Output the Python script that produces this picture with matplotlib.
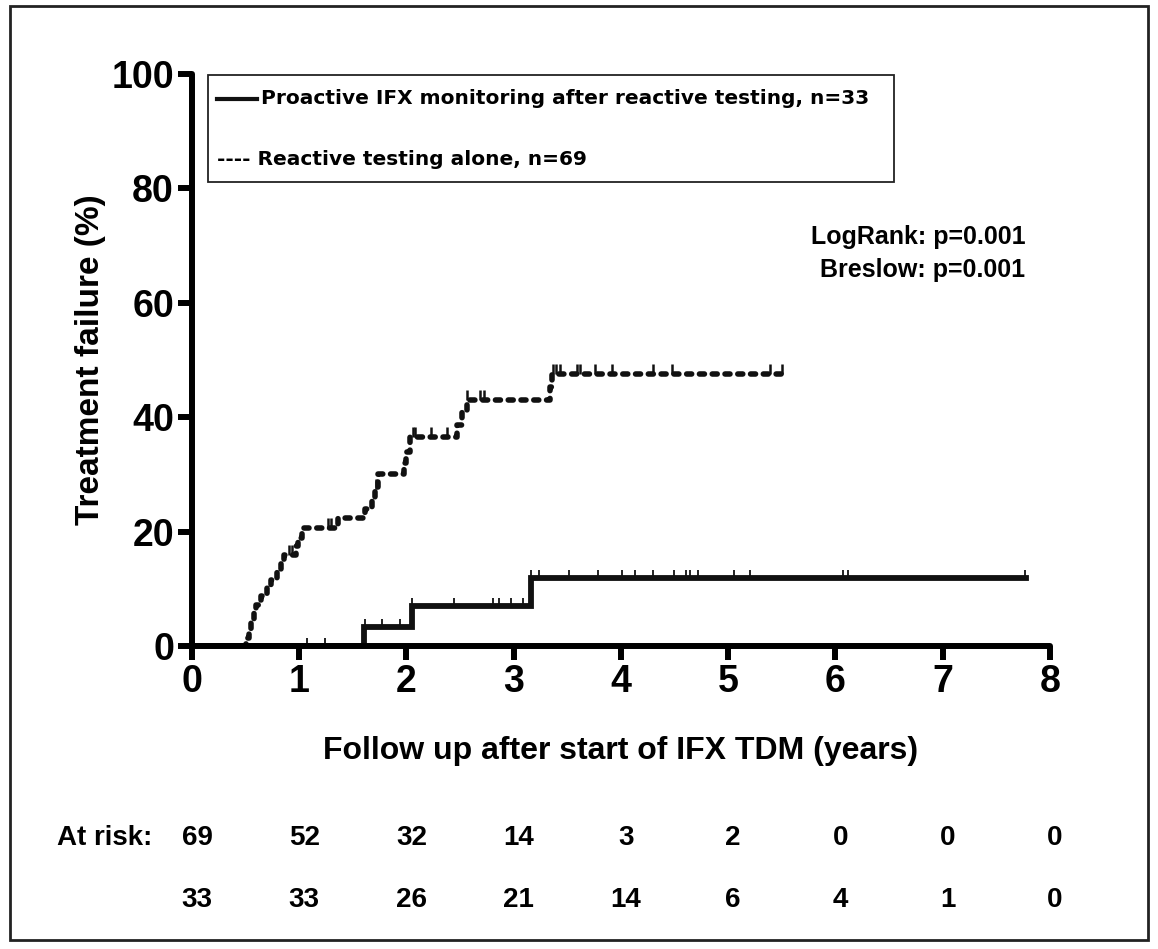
import matplotlib
matplotlib.use("Agg")
import matplotlib.pyplot as plt
from matplotlib.patches import Rectangle
from matplotlib.lines import Line2D

plt.rcParams['font.family'] = ['Liberation Sans', 'DejaVu Sans']
plt.rcParams['font.weight'] = 'bold'

# cumulative treatment failure (%), step curves
reactive_t = [0, 0.50, 0.53, 0.55, 0.58, 0.60, 0.64, 0.70, 0.74, 0.79, 0.83, 0.86,
              0.97, 0.99, 1.03, 1.36, 1.61, 1.68, 1.71, 1.73, 1.98, 2.00, 2.03,
              2.47, 2.52, 2.56, 3.34, 3.36, 5.50]
reactive_y = [0, 1.4, 2.9, 4.3, 5.8, 7.2, 8.7, 10.1, 11.6, 13.0, 14.5, 15.9,
              17.4, 18.9, 20.6, 22.3, 24.0, 25.8, 27.5, 30.0, 32.0, 34.0, 36.6,
              38.6, 41.0, 43.0, 45.3, 47.6, 47.6]

proactive_t = [0, 1.60, 2.05, 3.16, 7.78]
proactive_y = [0, 3.3, 7.0, 11.9, 11.9]

# censored observations
reactive_cens = [0.90, 0.93, 1.27, 1.30, 1.72, 2.06, 2.08, 2.23, 2.38, 2.56, 2.69,
                 2.72, 3.37, 3.39, 3.43, 3.59, 3.62, 3.76, 3.92, 4.30, 4.48, 5.39, 5.50]
proactive_cens = [1.07, 1.24, 1.61, 1.77, 1.94, 2.05, 2.44, 2.81, 2.86, 2.97, 3.09,
                  3.16, 3.24, 3.52, 3.79, 4.01, 4.13, 4.30, 4.49, 4.61, 4.64, 4.72,
                  5.05, 5.20, 6.07, 6.12, 7.77]

risk_years = [0, 1, 2, 3, 4, 5, 6, 7, 8]
risk_reactive = [69, 52, 32, 14, 3, 2, 0, 0, 0]
risk_proactive = [33, 33, 26, 21, 14, 6, 4, 1, 0]


def level_at(times, levels, t):
    y = levels[0]
    for ti, yi in zip(times, levels):
        if ti <= t:
            y = yi
    return y


fig = plt.figure(figsize=(11.58, 9.49), dpi=100)
ax = fig.add_axes([0.1658, 0.3193, 0.7409, 0.6027])

ax.step(reactive_t, reactive_y, where='post', color='#111111', lw=4.0,
        linestyle=(0, (0.9, 1.4)), dash_capstyle='round')
ax.step(proactive_t, proactive_y, where='post', color='#111111', lw=4.2,
        solid_joinstyle='miter')

ax.plot(reactive_cens, [level_at(reactive_t, reactive_y, t) for t in reactive_cens],
        linestyle='none', marker=2, markersize=7, mew=1.8, color='#111111')
ax.plot(proactive_cens, [level_at(proactive_t, proactive_y, t) for t in proactive_cens],
        linestyle='none', marker=2, markersize=6, mew=1.3, color='#111111')

ax.set_xlim(0, 8)
ax.set_ylim(0, 100)
ax.set_xticks(range(0, 9))
ax.set_yticks(range(0, 101, 20))
for s in ['top', 'right']:
    ax.spines[s].set_visible(False)
for s in ['left', 'bottom']:
    ax.spines[s].set_linewidth(4.3)
    ax.spines[s].set_capstyle('round')
ax.tick_params(width=4.3, length=10, labelsize=27, pad=3)
for lab in ax.get_xticklabels() + ax.get_yticklabels():
    lab.set_fontweight('bold')

ax.set_ylabel('Treatment failure (%)', fontsize=24, fontweight='bold', labelpad=4)
ax.set_xlabel('Follow up after start of IFX TDM (years)', fontsize=23,
              fontweight='bold', labelpad=26)

ax.text(7.77, 71.5, 'LogRank: p=0.001', ha='right', va='center', fontsize=18,
        fontweight='bold')
ax.text(7.77, 65.8, 'Breslow: p=0.001', ha='right', va='center', fontsize=18,
        fontweight='bold')

# legend box
legend_font = ['DejaVu Sans']
ax.add_patch(Rectangle((0.0186, 0.812), 0.80, 0.186, transform=ax.transAxes,
                       fill=False, lw=1.3, edgecolor='#222222', clip_on=False))
ax.add_line(Line2D([0.029, 0.076], [0.957, 0.957], transform=ax.transAxes,
                   color='#111111', lw=3, clip_on=False))
ax.text(0.081, 0.957, 'Proactive IFX monitoring after reactive testing, n=33',
        transform=ax.transAxes, ha='left', va='center', fontsize=14.5,
        fontweight='bold', family=legend_font)
ax.text(0.029, 0.85, '---- Reactive testing alone, n=69',
        transform=ax.transAxes, ha='left', va='center', fontsize=14.5,
        fontweight='bold', family=legend_font)

# numbers at risk
fig.text(0.049, 1 - 838 / 949, 'At risk:', ha='left', va='center', fontsize=20,
         fontweight='bold')
for yr, a, b in zip(risk_years, risk_reactive, risk_proactive):
    xpos = (ax.transData.transform((yr, 0))[0] + 5) / fig.bbox.width
    fig.text(xpos, 1 - 838 / 949, str(a), ha='center', va='center', fontsize=20,
             fontweight='bold')
    fig.text(xpos, 1 - 900 / 949, str(b), ha='center', va='center', fontsize=20,
             fontweight='bold')

# outer frame
fig.patches.append(Rectangle((0.009, 0.009), 0.982, 0.985, transform=fig.transFigure,
                             fill=False, lw=2, edgecolor='#222222'))

fig.savefig('out.png', dpi=100)
